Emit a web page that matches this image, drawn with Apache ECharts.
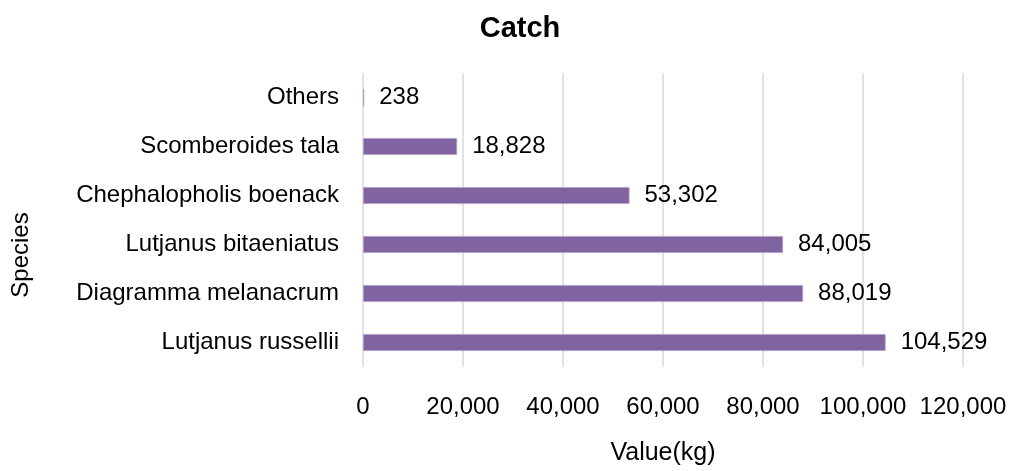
<!DOCTYPE html>
<html>
<head>
<meta charset="utf-8">
<script src="https://cdn.jsdelivr.net/npm/echarts@6/dist/echarts.min.js"></script>
<style>
  html, body { margin: 0; padding: 0; background: #fff; }
  #chart { width: 1011px; height: 471px; }
</style>
</head>
<body>
<div id="chart"></div>
<script>
// species, bottom to top as drawn on the axis
const species = [
  "Lutjanus russellii",
  "Diagramma melanacrum",
  "Lutjanus bitaeniatus",
  "Chephalopholis boenack",
  "Scomberoides tala",
  "Others"
];
const catchKg = [104529, 88019, 84005, 53302, 18828, 238];
const xTicks = [0, 20000, 40000, 60000, 80000, 100000, 120000];

const chart = echarts.init(document.getElementById("chart"));
const font = "Liberation Sans, Arial, sans-serif";

const option = {
  animation: false,
  textStyle: { fontFamily: font },
  title: {
    text: "Catch",
    left: 515,
    top: 9,
    textAlign: "center",
    textStyle: { fontFamily: font, fontSize: 29, fontWeight: "bold", color: "#000" }
  },
  // axis title sits lower than the plot middle, so it is drawn on its own
  graphic: [{
    type: "text",
    x: 21,
    y: 255,
    rotation: Math.PI / 2,
    style: {
      text: "Species",
      font: "24px " + font,
      fill: "#000",
      align: "center",
      verticalAlign: "middle"
    }
  }],
  grid: { left: 363, right: 48, top: 73, bottom: 102 },
  xAxis: {
    type: "value",
    min: xTicks[0],
    max: xTicks[xTicks.length - 1],
    interval: 20000,
    name: "Value(kg)",
    nameLocation: "middle",
    nameGap: 74,
    nameTextStyle: { fontFamily: font, fontSize: 25, color: "#000" },
    axisLine: { show: false },
    axisTick: { show: false },
    axisLabel: {
      margin: 28,
      fontFamily: font,
      fontSize: 24,
      color: "#000",
      formatter: (v) => v.toLocaleString("en-US")
    },
    splitLine: { show: true, lineStyle: { color: "#d9d9d9", width: 1.5 } }
  },
  yAxis: {
    type: "category",
    data: species,
    axisLine: { show: false },
    axisTick: { show: false },
    axisLabel: { margin: 24, fontFamily: font, fontSize: 24, color: "#000" }
  },
  series: [{
    type: "bar",
    data: catchKg,
    barWidth: 17,
    itemStyle: { color: "#8064a2", borderColor: "#b3a2c7", borderWidth: 0.8 },
    label: {
      show: true,
      position: "right",
      distance: 15,
      fontFamily: font,
      fontSize: 24,
      color: "#000",
      formatter: (p) => p.value.toLocaleString("en-US")
    }
  }]
};
chart.setOption(option);
</script>
</body>
</html>
